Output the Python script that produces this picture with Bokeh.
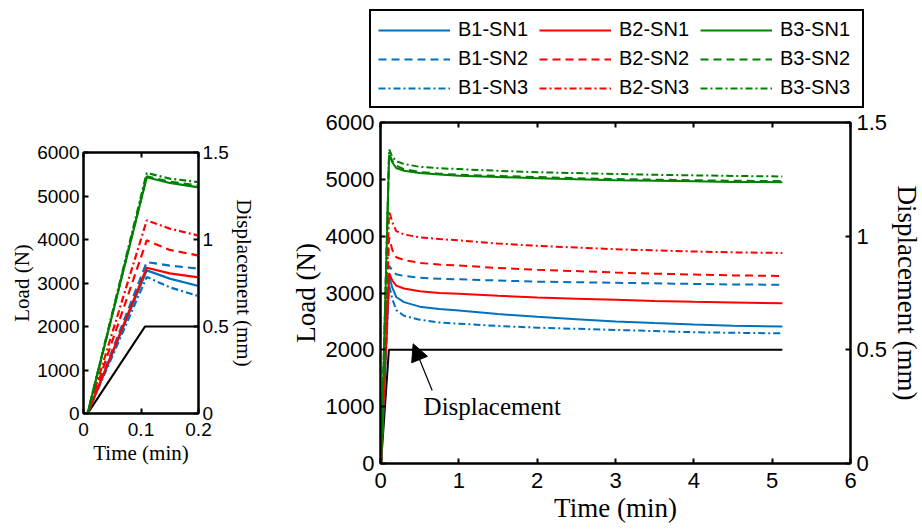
from jinja2 import Template
from bokeh.plotting import figure
from bokeh.models import (Range1d, LinearAxis, FixedTicker, CustomJSTickFormatter,
                          Legend, LegendItem, Arrow, NormalHead, Label)
from bokeh.embed import file_html
from bokeh.resources import INLINE

# ---------------- data ----------------
time_min = [0, 0.007, 0.11, 0.15, 0.2, 0.3, 0.5, 0.75, 1, 1.5, 2, 2.5, 3, 3.5, 4, 4.5, 5.13]

b1_sn1 = [0, 0, 3290, 3100, 2930, 2840, 2760, 2720, 2690, 2630, 2580, 2540, 2500, 2470, 2445, 2425, 2410]
b1_sn2 = [0, 0, 3480, 3400, 3330, 3300, 3270, 3250, 3240, 3220, 3200, 3190, 3180, 3170, 3160, 3150, 3145]
b1_sn3 = [0, 0, 3140, 2900, 2700, 2600, 2530, 2480, 2460, 2420, 2390, 2370, 2350, 2330, 2310, 2300, 2290]
b2_sn1 = [0, 0, 3350, 3220, 3130, 3080, 3030, 3000, 2985, 2950, 2920, 2900, 2880, 2860, 2845, 2835, 2820]
b2_sn2 = [0, 0, 3980, 3760, 3630, 3580, 3530, 3500, 3485, 3440, 3410, 3385, 3360, 3340, 3325, 3310, 3300]
b2_sn3 = [0, 0, 4440, 4250, 4090, 4030, 3980, 3950, 3925, 3870, 3830, 3800, 3770, 3750, 3730, 3715, 3705]
b3_sn1 = [0, 0, 5430, 5300, 5200, 5150, 5110, 5085, 5065, 5040, 5020, 5000, 4985, 4975, 4965, 4955, 4950]
b3_sn2 = [0, 0, 5450, 5330, 5240, 5180, 5130, 5100, 5080, 5060, 5040, 5020, 5005, 4995, 4985, 4975, 4970]
b3_sn3 = [0, 0, 5530, 5400, 5320, 5270, 5220, 5195, 5180, 5150, 5125, 5110, 5095, 5080, 5070, 5060, 5050]

disp_time = [0, 0.007, 0.107, 5.13]
disp_mm = [0, 0, 0.5, 0.5]

series_names = ["B1-SN1", "B1-SN2", "B1-SN3", "B2-SN1", "B2-SN2", "B2-SN3", "B3-SN1", "B3-SN2", "B3-SN3"]
series_values = [b1_sn1, b1_sn2, b1_sn3, b2_sn1, b2_sn2, b2_sn3, b3_sn1, b3_sn2, b3_sn3]

load_ticks = [0, 1000, 2000, 3000, 4000, 5000, 6000]
disp_ticks = [0, 0.5, 1, 1.5]
main_time_ticks = [0, 1, 2, 3, 4, 5, 6]
small_time_ticks = [0, 0.1, 0.2]

# ---------------- styles ----------------
COLORS = {"B1": "#0072BD", "B2": "#FF0000", "B3": "#008000"}
DASHES = {"SN1": "solid", "SN2": "8 5", "SN3": "7 3 2 3"}
SANS = "Liberation Sans"
SERIF = "Liberation Serif"


def make_fmt():
    return CustomJSTickFormatter(code="return String(Math.round(tick*1000)/1000);")


def style_axis(ax, tick_size, label_size, standoff, label_standoff):
    ax.axis_line_color = "black"
    ax.axis_line_width = 2
    ax.major_tick_line_color = "black"
    ax.major_tick_line_width = 2
    ax.major_tick_in = 5
    ax.major_tick_out = 0
    ax.minor_tick_line_color = None
    ax.major_label_text_font = SANS
    ax.major_label_text_font_size = tick_size
    ax.major_label_text_color = "black"
    ax.major_label_standoff = standoff
    ax.axis_label_text_font = SERIF
    ax.axis_label_text_font_style = "normal"
    ax.axis_label_text_font_size = label_size
    ax.axis_label_text_color = "black"
    ax.axis_label_standoff = label_standoff
    ax.formatter = make_fmt()


def add_series(p, width):
    rends = {}
    for name, vals in zip(series_names, series_values):
        b, sn = name.split("-")
        rends[name] = p.line(time_min, vals, line_color=COLORS[b], line_width=width,
                             line_dash=DASHES[sn])
    return rends


def build(fw, fh, xmax, xticks, borders, tick_size, label_size, ystand, lstand, lw):
    p = figure(frame_width=fw, frame_height=fh, x_range=Range1d(0, xmax), y_range=Range1d(0, 6000),
               output_backend="svg", toolbar_location=None,
               min_border_left=borders[0], min_border_right=borders[1],
               min_border_top=borders[2], min_border_bottom=borders[3])
    p.extra_y_ranges = {"disp": Range1d(0, 1.5)}
    p.xgrid.grid_line_color = None
    p.ygrid.grid_line_color = None
    p.outline_line_color = "black"
    p.outline_line_width = 2
    p.outline_line_alpha = 1
    p.background_fill_color = "white"
    p.border_fill_color = None

    p.xaxis.ticker = FixedTicker(ticks=xticks)
    p.yaxis.ticker = FixedTicker(ticks=load_ticks)
    p.xaxis.axis_label = "Time (min)"
    p.yaxis.axis_label = "Load (N)"
    for ax in p.xaxis:
        style_axis(ax, tick_size, label_size, 9, 2)
    for ax in p.yaxis:
        style_axis(ax, tick_size, label_size, ystand, lstand)

    right = LinearAxis(y_range_name="disp", ticker=FixedTicker(ticks=disp_ticks),
                       axis_label="Displacement (mm)")
    style_axis(right, tick_size, label_size, ystand, lstand)
    p.add_layout(right, "right")

    top = LinearAxis(ticker=FixedTicker(ticks=xticks))
    style_axis(top, "1px", label_size, 0, 0)
    top.major_label_text_alpha = 0
    p.add_layout(top, "above")

    p.line(disp_time, disp_mm, y_range_name="disp", line_color="black", line_width=lw)
    add_series(p, lw)
    return p


small = build(115, 261, 0.2, small_time_ticks, (76, 87, 144, 109), "19px", "21px", 4, 0, 2.2)
main = build(470, 341, 6, main_time_ticks, (93, 66, 114, 59), "22px", "27px", 6, 2, 2)

main.add_layout(Arrow(end=NormalHead(size=17, fill_color="black", line_color="black"),
                      x_start=0.66, y_start=1285, x_end=0.417, y_end=2106,
                      line_color="black", line_width=1.2))
main.add_layout(Label(x=0.55, y=1003, text="Displacement", text_baseline="middle",
                      text_font=SERIF, text_font_size="25px", text_color="black"))

# ---------------- legend: its own figure above the main plot ----------------
# The same series are drawn here, but the ranges keep them outside the (empty) frame,
# so only the legend entries are visible.
leg_fig = figure(frame_width=500, frame_height=100, x_axis_type=None, y_axis_type=None,
                 x_range=Range1d(0, 1), y_range=Range1d(-20000, -10000),
                 output_backend="svg", toolbar_location=None,
                 min_border_left=0, min_border_right=0, min_border_top=0, min_border_bottom=0)
leg_fig.xgrid.grid_line_color = None
leg_fig.ygrid.grid_line_color = None
leg_fig.outline_line_color = None
leg_fig.background_fill_color = None
leg_fig.border_fill_color = None
leg_rends = add_series(leg_fig, 2)

legend_order = [f"B{b}-SN{s}" for s in (1, 2, 3) for b in (1, 2, 3)]
legend = Legend(items=[LegendItem(label=n, renderers=[leg_rends[n]]) for n in legend_order],
                location="top_left", orientation="horizontal", ncols=3,
                glyph_width=72, glyph_height=18, label_height=18, label_width=75,
                label_standoff=8, spacing=6, padding=7, margin=0,
                label_text_font=SANS, label_text_font_size="20px", label_text_color="black",
                border_line_color="black", border_line_width=2, border_line_alpha=1,
                background_fill_color="white", background_fill_alpha=1)
leg_fig.add_layout(legend)

PAGE = Template("""<!DOCTYPE html>
<html lang="en">
<head>
<meta charset="utf-8">
<title>Load and displacement</title>
<style>
html, body { margin: 0; padding: 0; overflow: hidden; background: white; }
.slot { position: absolute; }
</style>
{{ bokeh_css }}
{{ bokeh_js }}
</head>
<body>
{% from macros import embed %}
{% for doc in docs %}{% for root in doc.roots %}<div class="slot" style="left: {{ pos[loop.index0][0] }}px; top: {{ pos[loop.index0][1] }}px;">{{ embed(root) }}</div>
{% endfor %}{% endfor %}
{{ plot_script }}
</body>
</html>
""")

positions = [[7, 8], [287, 8], [369, 9]]
open("out.html", "w").write(file_html([small, main, leg_fig], INLINE, template=PAGE,
                                      template_variables={"pos": positions}))
